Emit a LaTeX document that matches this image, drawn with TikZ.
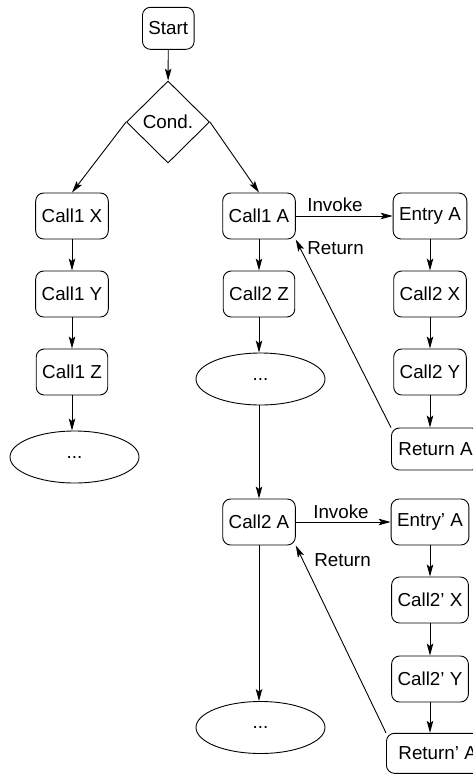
\documentclass[tikz,border=0pt]{standalone}
\usepackage{fontspec}
\setmainfont{Liberation Sans}
\usetikzlibrary{shapes.geometric,arrows.meta}
\begin{document}
\begin{tikzpicture}[x=1pt,y=-1pt,
  every node/.style={font=\fontsize{18.8}{22}\selectfont},
  box/.style={draw,rounded corners=8pt,minimum height=46pt,inner xsep=6pt,inner ysep=0pt,line width=0.9pt},
  oval/.style={draw,ellipse,minimum width=129pt,minimum height=52pt,inner sep=0pt,line width=0.9pt},
  cond/.style={draw,diamond,minimum width=83pt,minimum height=82pt,inner sep=0pt,line width=0.9pt},
  flow/.style={-{Stealth[length=12pt,width=6.5pt,inset=2.5pt]},line width=0.9pt},
  lbl/.style={inner sep=0pt}
]
\useasboundingbox (0,0) rectangle (473,774);
\clip (0,0) rectangle (473,774);

% start and branch
\node[box,minimum height=42pt] (start) at (168.3,28.3) {Start};
\node[cond] (cond) at (168,122) {Cond.};

% left branch
\node[box] (c1x) at (72,216) {Call1 X};
\node[box] (c1y) at (72,294) {Call1 Y};
\node[box] (c1z) at (72,372) {Call1 Z};
\node[oval] (e1) at (74.5,457) {...};

% main column
\node[box] (c1a) at (259,216) {Call1 A};
\node[box] (c2z) at (259,294) {Call2 Z};
\node[oval] (e2) at (260.5,379) {...};
\node[box] (c2a) at (259,522) {Call2 A};
\node[oval] (e3) at (260.5,727.5) {...};

% first callee
\node[box] (enta) at (430,216) {Entry A};
\node[box] (c2x) at (430,294) {Call2 X};
\node[box] (c2y) at (430,372) {Call2 Y};
\node[box,minimum height=42pt,inner xsep=7pt,anchor=west] (reta) at (391,449) {Return A};

% second callee
\node[box] (entpa) at (430,522) {Entry' A};
\node[box] (c2px) at (430,600) {Call2' X};
\node[box] (c2py) at (430,679) {Call2' Y};
\node[box,minimum height=40pt,inner xsep=12pt,anchor=west] (retpa) at (386,753.3) {Return' A};

% connectors
\draw[flow] (start) -- (cond);
\draw[flow] (cond.west) -- (c1x.north);
\draw[flow] (cond.east) -- (c1a.north);

\draw[flow] (c1x) -- (c1y);
\draw[flow] (c1y) -- (c1z);
\draw[flow] (c1z.south) -- (e1.north -| c1z.south);

\draw[flow] (c1a) -- (c2z);
\draw[flow] (c2z.south) -- (e2.north -| c2z.south);
\draw[flow] (e2.south -| c2a.north) -- (c2a.north);
\draw[flow] (c2a.south) -- (e3.north -| c2a.south);

\draw[flow] (c1a) -- (enta);
\draw[flow] (enta) -- (c2x);
\draw[flow] (c2x) -- (c2y);
\draw[flow] (c2y) -- (reta.north -| c2y);
\draw[flow] (reta.north west) -- (c1a.south east);

\draw[flow] (c2a) -- (entpa);
\draw[flow] (entpa) -- (c2px);
\draw[flow] (c2px) -- (c2py);
\draw[flow] (c2py) -- (retpa.north -| c2py);
\draw[flow] (retpa.north west) -- (c2a.south east);

% edge labels
\node[lbl] (inv1) at (335,205) {Invoke};
\node[lbl] (ret1) at (335.5,248) {Return};
\node[lbl] (inv2) at (341,511.5) {Invoke};
\node[lbl] (ret2) at (342.5,560) {Return};
\end{tikzpicture}
\end{document}
